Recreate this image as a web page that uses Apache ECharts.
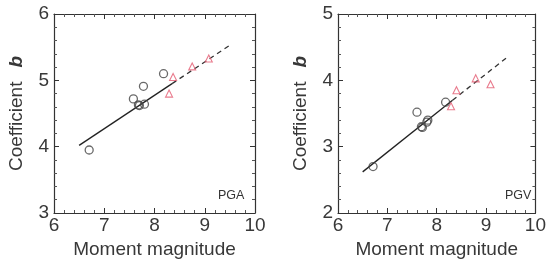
<!DOCTYPE html>
<html>
<head>
<meta charset="utf-8">
<script src="https://cdn.jsdelivr.net/npm/echarts@6/dist/echarts.min.js"></script>
<style>
  html, body { margin: 0; padding: 0; background: #fff; }
  #chart { width: 549px; height: 271px; }
</style>
</head>
<body>
<div id="chart"></div>
<script>
// magnitude axis ticks
const xTicks = [6, 7, 8, 9, 10]
const pgaYTicks = [3, 4, 5, 6]
const pgvYTicks = [2, 3, 4, 5]

// PGA panel
const pgaCircles = [[6.70, 3.95], [7.58, 4.72], [7.78, 4.91], [7.68, 4.63], [7.70, 4.62], [7.80, 4.64], [8.18, 5.10]]
const pgaTriangles = [[8.37, 5.05], [8.29, 4.80], [8.75, 5.21], [9.08, 5.33]]
const pgaFitSolid = [[6.5, 4.02], [8.35, 4.95]]
const pgaFitDash = [[8.35, 4.95], [9.5, 5.53]]

// PGV panel
const pgvCircles = [[6.71, 2.70], [7.60, 3.52], [7.69, 3.30], [7.71, 3.29], [7.80, 3.37], [7.82, 3.40], [8.18, 3.67]]
const pgvTriangles = [[8.40, 3.85], [8.29, 3.61], [8.79, 4.03], [9.09, 3.94]]
const pgvFitSolid = [[6.5, 2.62], [8.32, 3.70]]
const pgvFitDash = [[8.32, 3.70], [9.45, 4.36]]

const textColor = '#383838'
const font = 'Liberation Sans, Arial, sans-serif'

let myChart = echarts.init(document.getElementById('chart'))

const tickStyle = {
  axisLine: { show: true, onZero: false, lineStyle: { color: '#333', width: 1.2 } },
  axisTick: { show: true, inside: true, length: 5, lineStyle: { color: '#333' } },
  minorTick: { show: true, splitNumber: 5, length: 3, lineStyle: { color: '#555' } },
  splitLine: { show: false },
}

function xAxes(gridIndex) {
  const min = xTicks[0], max = xTicks[xTicks.length - 1]
  return [
    {
      gridIndex, type: 'value', min, max, interval: 1,
      ...tickStyle,
      axisLabel: { color: textColor, fontSize: 19, fontFamily: font, margin: 3 },
      name: 'Moment magnitude', nameLocation: 'middle', nameGap: 18,
      nameTextStyle: { color: textColor, fontSize: 19, fontFamily: font },
    },
    {
      gridIndex, type: 'value', min, max, interval: 1, position: 'top',
      ...tickStyle, axisLabel: { show: false },
    },
  ]
}

function yAxes(gridIndex, ticks) {
  const min = ticks[0], max = ticks[ticks.length - 1]
  return [
    {
      gridIndex, type: 'value', min, max, interval: 1,
      ...tickStyle,
      axisLabel: { color: textColor, fontSize: 19, fontFamily: font, margin: 5 },
      name: '{n|Coefficient}{b|b}', nameLocation: 'middle', nameGap: 28,
      nameTextStyle: {
        rich: {
          n: { color: textColor, fontSize: 19, fontFamily: font },
          b: { color: textColor, fontSize: 19, fontFamily: font, fontStyle: 'italic', fontWeight: 'bold', padding: [0, 0, 0, 14] },
        },
      },
    },
    {
      gridIndex, type: 'value', min, max, interval: 1, position: 'right',
      ...tickStyle, axisLabel: { show: false },
    },
  ]
}

function panelSeries(idx, circles, triangles, solid, dash) {
  return [
    {
      type: 'line', xAxisIndex: idx * 2, yAxisIndex: idx * 2, data: solid,
      symbol: 'none', lineStyle: { color: '#222', width: 1.3 }, z: 2,
    },
    {
      type: 'line', xAxisIndex: idx * 2, yAxisIndex: idx * 2, data: dash,
      symbol: 'none', lineStyle: { color: '#333', width: 1.3, type: [5, 4] }, z: 2,
    },
    {
      type: 'scatter', xAxisIndex: idx * 2, yAxisIndex: idx * 2, data: circles,
      symbol: 'circle', symbolSize: 8,
      itemStyle: { color: 'rgba(255,255,255,0)', borderColor: '#444', borderWidth: 1.3 }, z: 3,
    },
    {
      type: 'scatter', xAxisIndex: idx * 2, yAxisIndex: idx * 2, data: triangles,
      symbol: 'triangle', symbolSize: 7,
      itemStyle: { color: 'rgba(255,255,255,0)', borderColor: '#e45a70', borderWidth: 1.1 }, z: 3,
    },
  ]
}

let option = {
  animation: false,
  backgroundColor: '#fff',
  grid: [
    { left: 54, top: 14, width: 201, height: 199 },
    { left: 338, top: 14, width: 202, height: 199 },
  ],
  xAxis: [...xAxes(0), ...xAxes(1)],
  yAxis: [...yAxes(0, pgaYTicks), ...yAxes(1, pgvYTicks)],
  graphic: [
    { type: 'text', left: 218, top: 189, style: { text: 'PGA', fontSize: 12.5, fontFamily: font, fill: '#333' } },
    { type: 'text', left: 505, top: 189, style: { text: 'PGV', fontSize: 12.5, fontFamily: font, fill: '#333' } },
  ],
  series: [
    ...panelSeries(0, pgaCircles, pgaTriangles, pgaFitSolid, pgaFitDash),
    ...panelSeries(1, pgvCircles, pgvTriangles, pgvFitSolid, pgvFitDash),
  ],
}

myChart.setOption(option)
</script>
</body>
</html>
